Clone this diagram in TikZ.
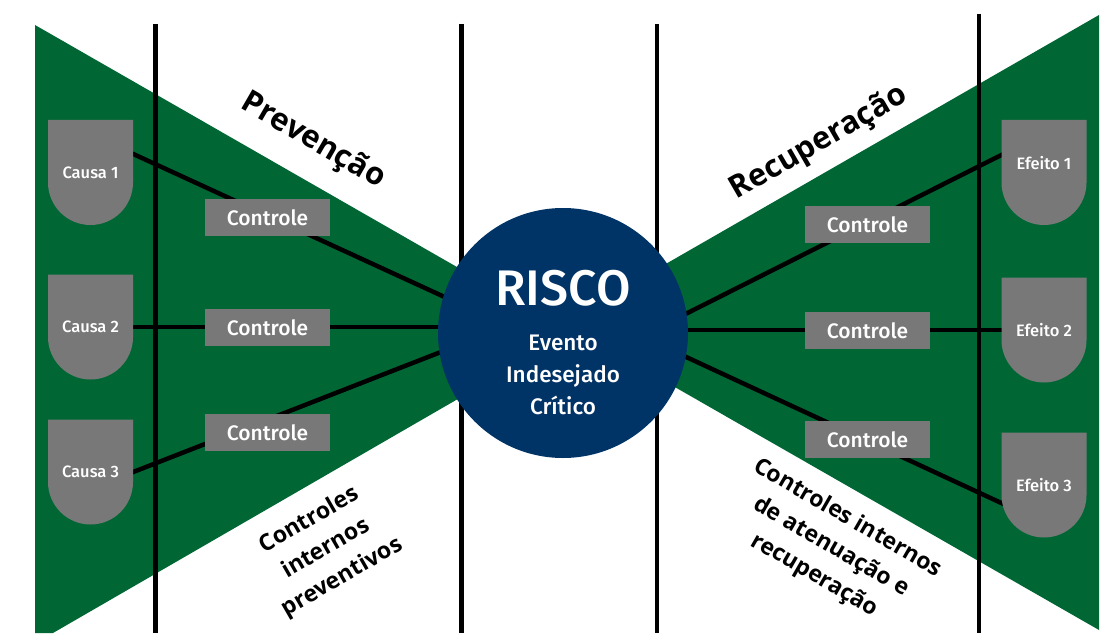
\documentclass[tikz,border=0pt]{standalone}
\usepackage{fontspec}
\newfontfamily\firamed{Fira Sans Medium}
\newfontfamily\opensans{Open Sans}
\definecolor{bowgreen}{RGB}{0,103,52}
\definecolor{risknavy}{RGB}{0,51,102}
\definecolor{boxgray}{RGB}{120,120,120}
\pgfdeclarelayer{bg}
\pgfdeclarelayer{links}
\pgfsetlayers{bg,links,main}
\begin{document}
\begin{tikzpicture}[x=1pt,y=1pt,
  wing/.style={fill=bowgreen},
  barrier/.style={line width=4.3pt, black},
  linkline/.style={line width=4.5pt, black, shorten <=-3pt, shorten >=-4pt},
  ctrl/.style={fill=boxgray, minimum width=125pt, minimum height=37pt, inner sep=0pt,
    text=white, font=\firamed\fontsize{21}{24}\selectfont},
  eventbox/.style={minimum width=85pt, minimum height=105pt, inner sep=0pt,
    text=white, font=\firamed\fontsize{16.5}{20}\selectfont,
    path picture={\fill[boxgray] (path picture bounding box.north west)
      -- (path picture bounding box.north east)
      -- ([yshift=42.5pt]path picture bounding box.south east)
      arc[start angle=0, end angle=-180, radius=42.5pt] -- cycle;}},
  riskcircle/.style={circle, fill=risknavy, minimum size=250pt, inner sep=0pt},
  phaselabel/.style={font=\opensans\bfseries\fontsize{31}{36}\selectfont},
  sidenote/.style={font=\opensans\bfseries\fontsize{23}{33}\selectfont, align=center},
]
\useasboundingbox (0,0) rectangle (1107,633);

% bow-tie wings and barrier lines
\begin{pgfonlayer}{bg}
  \fill[wing] (35,608) -- (572,300) -- (53,0) -- (35,0) -- cycle;
  \fill[wing] (563,310) -- (1099,618) -- (1099,3) -- cycle;
  \draw[barrier] (155.5,609) -- (155.5,0);
  \draw[barrier] (461.5,609) -- (461.5,0);
  \draw[barrier] (657,609) -- (657,0);
  \draw[barrier] (979,619) -- (979,0);
\end{pgfonlayer}

% central event
\node[riskcircle] (risk) at (563,300) {};
\node[text=white, font=\firamed\fontsize{50}{56}\selectfont] (risktitle) at (563,344.5) {RISCO};
\node[text=white, align=center, font=\firamed\fontsize{22.5}{32}\selectfont] (riskdesc) at (563,258.5)
  {Evento\\Indesejado\\Crítico};

% causes
\node[eventbox] (c1) at (90.5,460.5) {Causa 1};
\node[eventbox] (c2) at (90.5,306) {Causa 2};
\node[eventbox] (c3) at (90.5,161) {Causa 3};

% effects
\node[eventbox] (e1) at (1044,460.5) {\raisebox{19pt}{Efeito 1}};
\node[eventbox] (e2) at (1044,303) {Efeito 2};
\node[eventbox] (e3) at (1044,148) {Efeito 3};

% controls
\node[ctrl] (k1) at (267.5,415.5) {Controle};
\node[ctrl] (k2) at (267.5,305.5) {Controle};
\node[ctrl] (k3) at (267.5,200.5) {Controle};
\node[ctrl] (k4) at (867.5,408.5) {Controle};
\node[ctrl] (k5) at (867.5,302.5) {Controle};
\node[ctrl] (k6) at (867.5,193.5) {Controle};

% connectors behind the boxes
\begin{pgfonlayer}{links}
  \draw[linkline] ([yshift=18.5pt]c1.east) -- (risk.163);
  \draw[linkline] (c2.east) -- (c2.east -| risk.west);
  \draw[linkline] (c3.east) -- (risk.189);
  \draw[linkline] ([yshift=17.5pt]e1.west) -- (risk.9);
  \draw[linkline] (e2.west) -- (e2.west -| risk.east);
  \draw[linkline] ([yshift=-18pt]e3.west) -- (risk.-11);
\end{pgfonlayer}

% phase labels
\node[phaselabel, rotate=-30] (prev) at (313,492) {Prevenção};
\node[phaselabel, rotate=30] (recu) at (819,490) {Recuperação};
\node[sidenote, rotate=30] (prevnote) at (326,84) {Controles\\internos\\preventivos};
\node[sidenote, rotate=-30] (recnote) at (831,86) {Controles internos\\de atenuação e\\recuperação};
\end{tikzpicture}
\end{document}
